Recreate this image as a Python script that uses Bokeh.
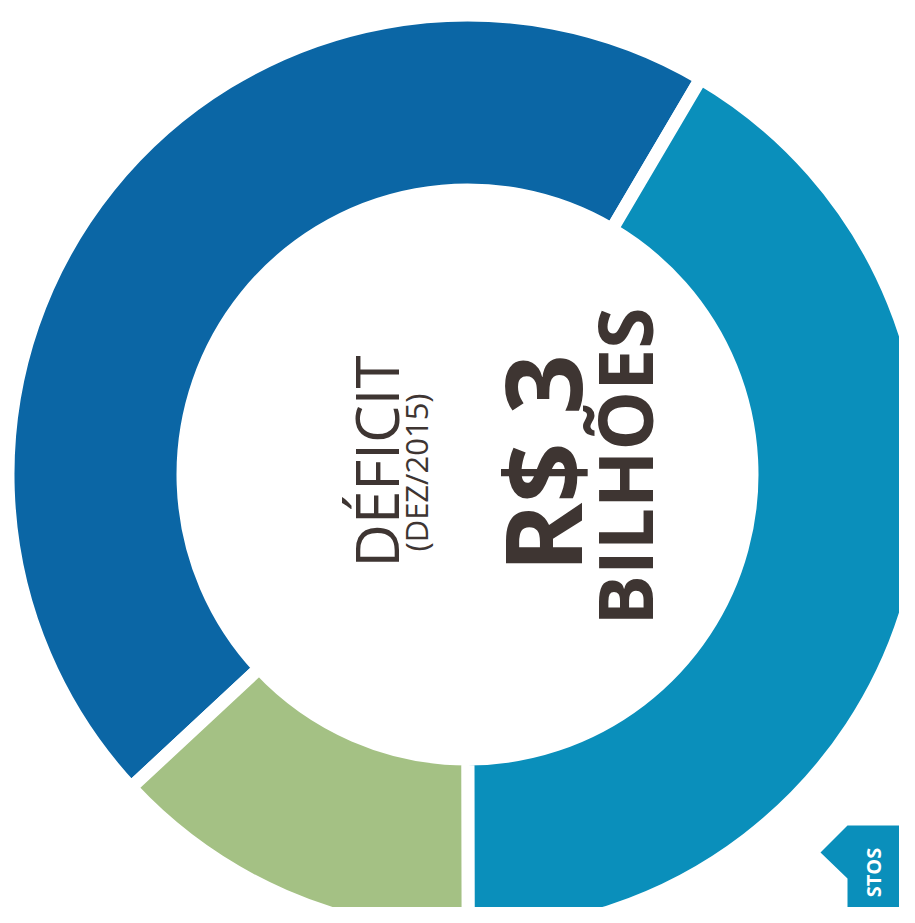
import numpy as np
from bokeh.plotting import figure
from bokeh.models import Range1d, ColumnDataSource
from bokeh.core.properties import value
from bokeh.embed import file_html
from bokeh.resources import INLINE

# ---- data ----
segments = ["Segmento azul escuro", "Segmento verde", "Segmento azul claro"]
shares = [45.4, 13.1, 41.5]          # percent of the ring
colors = ["#0B66A5", "#A4C184", "#0A8FBB"]
start_deg = 59.5                      # where the first segment begins (math angle)

title_main = "DÉFICIT"
title_sub = "(DEZ/2015)"
amount = "R$ 3"
unit = "BILHÕES"
tab_text = "STOS"

# ---- geometry (picture px, y flipped) ----
H = 923
W_FIG, H_FIG = 899, 907
cx, cy = 467, H - 474
r_in, r_out, gap = 291, 453, 13

vals = np.array(shares, dtype=float)
ang = vals / vals.sum() * 2 * np.pi
ends = np.radians(start_deg) + np.cumsum(ang)
starts = ends - ang

src = ColumnDataSource(dict(seg=segments, start=starts, end=ends, color=colors))

p = figure(width=W_FIG, height=H_FIG, x_range=Range1d(0, W_FIG), y_range=Range1d(H - H_FIG, H),
           output_backend="svg", toolbar_location=None, min_border=0,
           x_axis_type=None, y_axis_type=None)
p.outline_line_color = None
p.background_fill_color = "white"
p.border_fill_color = "white"

p.annular_wedge(x=cx, y=cy, inner_radius=r_in - gap / 2, outer_radius=r_out + gap / 2,
                start_angle="start", end_angle="end", fill_color="color",
                line_color="white", line_width=gap, line_join="miter", source=src)

txt_color = "#3E3532"
p.text(x=[375], y=[H - 461], text=[title_main], angle=np.pi / 2,
       text_font=value("Open Sans"), text_font_size="60px", text_color=txt_color,
       text_align="center", text_baseline="alphabetic")
p.text(x=[415], y=[H - 472], text=[title_sub], angle=np.pi / 2,
       text_font=value("Open Sans"), text_font_size="31px", text_color=txt_color,
       text_align="center", text_baseline="alphabetic")
p.text(x=[540], y=[H - 463], text=[amount], angle=np.pi / 2,
       text_font=value("Open Sans"), text_font_style="bold", text_font_size="106px",
       text_color=txt_color, text_align="center", text_baseline="alphabetic")
p.text(x=[623], y=[H - 466], text=[unit], angle=np.pi / 2,
       text_font=value("Open Sans"), text_font_style="bold", text_font_size="75px",
       text_color=txt_color, text_align="center", text_baseline="alphabetic")

# decorative tab at the bottom right
tab_x = [847, 915, 915, 847, 847, 820]
tab_y = [H - 825, H - 825, H - 923, H - 923, H - 878, H - 852]
p.patch(tab_x, tab_y, fill_color="#0A8FBB", line_color=None)
p.text(x=[873], y=[H - 872], text=[tab_text], angle=np.pi / 2,
       text_font=value("Open Sans"), text_font_style="bold", text_font_size="20px",
       text_color="white", text_align="center", text_baseline="middle")

open("out.html", "w").write(file_html(p, INLINE))
